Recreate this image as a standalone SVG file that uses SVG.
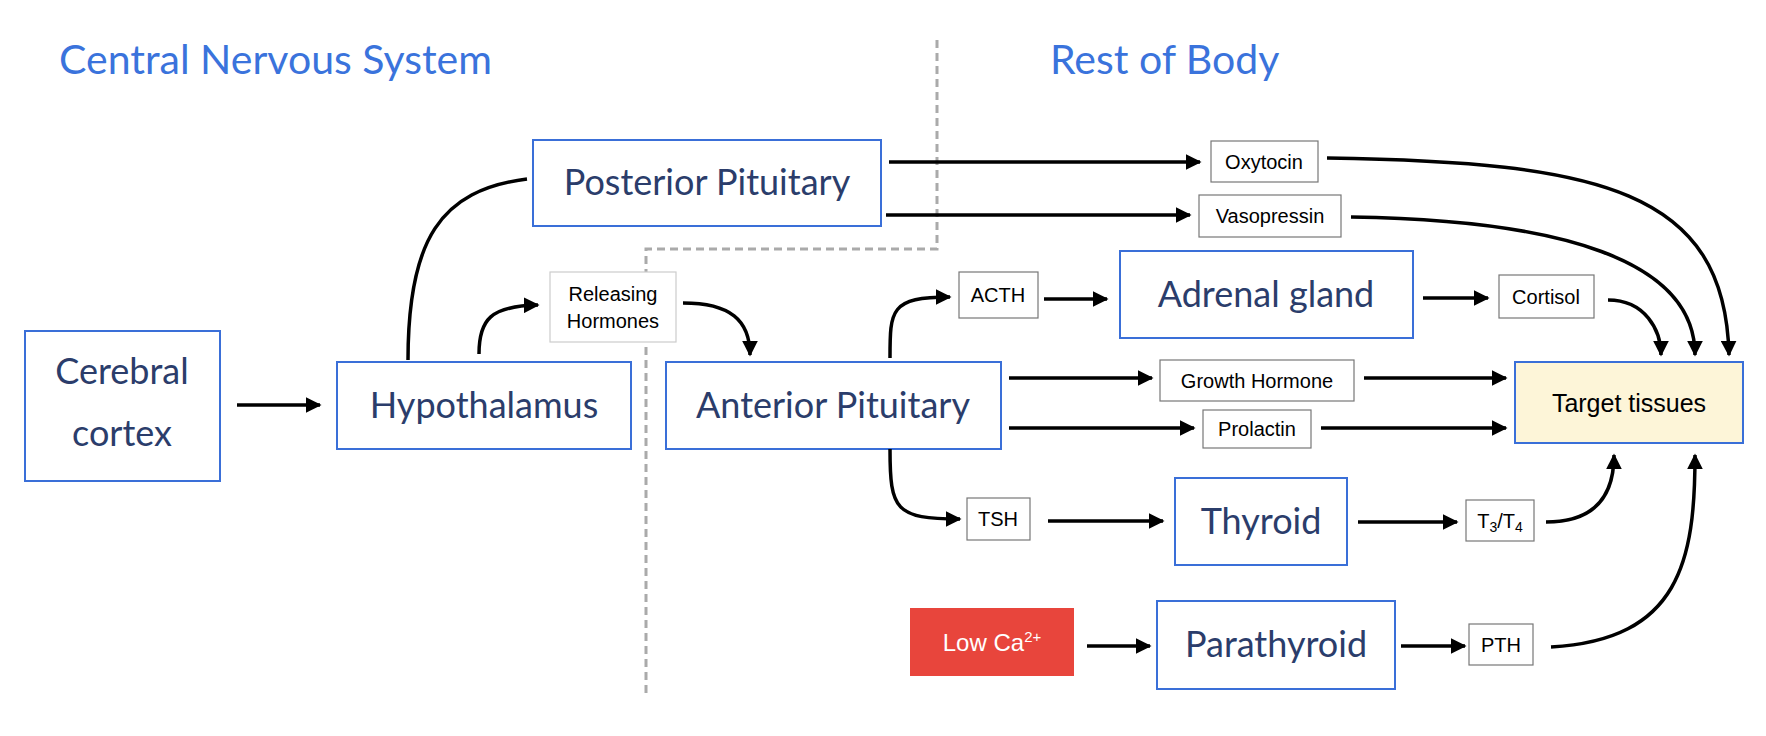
<svg xmlns="http://www.w3.org/2000/svg" width="1766" height="736" viewBox="0 0 1766 736">
<style>
.title{font-family:Lato,"Open Sans",sans-serif;font-size:41px;fill:#3a73dc}
.nb{fill:#fff;stroke:#3a6fd8;stroke-width:2}
.nt{font-family:Lato,"Open Sans",sans-serif;font-size:36px;fill:#2b3d6b;text-anchor:middle}
.sb{fill:#fff;stroke:#777;stroke-width:1.2}
.st{font-family:"Liberation Sans",Arial,sans-serif;font-size:20px;fill:#000;text-anchor:middle}
.c{fill:none;stroke:#000;stroke-width:3.5;marker-end:url(#a)}
</style>
<defs><marker id="a" viewBox="0 0 10 10" refX="9" refY="5" markerWidth="4.5" markerHeight="4.5" orient="auto" markerUnits="strokeWidth"><path d="M0,0L10,5L0,10z" fill="#000"/></marker></defs>
<rect width="1766" height="736" fill="#fff"/>
<text class="title" x="59" y="74">Central Nervous System</text>
<text class="title" x="1050" y="74">Rest of Body</text>
<path d="M937,40V249H646V693" fill="none" stroke="#aaa" stroke-width="3" stroke-dasharray="8,5"/>
<g id="cortex"><rect class="nb" x="25" y="331" width="195" height="150"/><text class="nt" x="122" y="384">Cerebral</text><text class="nt" x="122" y="446">cortex</text></g>
<g id="hypothalamus"><rect class="nb" x="337" y="362" width="294" height="87"/><text class="nt" x="484" y="418">Hypothalamus</text></g>
<g id="posterior"><rect class="nb" x="533" y="140" width="348" height="86"/><text class="nt" x="707" y="195">Posterior Pituitary</text></g>
<g id="releasing"><rect x="550" y="272" width="126" height="70" fill="#fff" stroke="#ccc" stroke-width="1.2"/><text class="st" x="613" y="301">Releasing</text><text class="st" x="613" y="328">Hormones</text></g>
<g id="anterior"><rect class="nb" x="666" y="362" width="335" height="87"/><text class="nt" x="833" y="418">Anterior Pituitary</text></g>
<g id="acth"><rect class="sb" x="959" y="272" width="79" height="46"/><text class="st" x="998" y="302">ACTH</text></g>
<g id="adrenal"><rect class="nb" x="1120" y="251" width="293" height="87"/><text class="nt" x="1266" y="307">Adrenal gland</text></g>
<g id="cortisol"><rect class="sb" x="1499" y="275" width="95" height="43"/><text class="st" x="1546" y="304">Cortisol</text></g>
<g id="oxytocin"><rect class="sb" x="1211" y="141" width="107" height="41"/><text class="st" x="1264" y="169">Oxytocin</text></g>
<g id="vasopressin"><rect class="sb" x="1199" y="195" width="142" height="42"/><text class="st" x="1270" y="223">Vasopressin</text></g>
<g id="gh"><rect class="sb" x="1160" y="360" width="194" height="41"/><text class="st" x="1257" y="388">Growth Hormone</text></g>
<g id="prolactin"><rect class="sb" x="1203" y="410" width="108" height="38"/><text class="st" x="1257" y="436">Prolactin</text></g>
<g id="target"><rect x="1515" y="362" width="228" height="81" fill="#fdf5d8" stroke="#3a6fd8" stroke-width="2"/><text class="st" x="1629" y="412" style="font-size:25px">Target tissues</text></g>
<g id="tsh"><rect class="sb" x="967" y="498" width="63" height="42"/><text class="st" x="998" y="526">TSH</text></g>
<g id="thyroid"><rect class="nb" x="1175" y="478" width="172" height="87"/><text class="nt" x="1261" y="534">Thyroid</text></g>
<g id="t3t4"><rect class="sb" x="1466" y="500" width="68" height="41"/><text class="st" x="1500" y="528">T<tspan font-size="14" dy="4">3</tspan><tspan dy="-4">/T</tspan><tspan font-size="14" dy="4">4</tspan></text></g>
<g id="lowca"><rect x="910" y="608" width="164" height="68" fill="#e8453c"/><text class="st" x="992" y="651" style="font-size:24px;fill:#fff">Low Ca<tspan font-size="15" dy="-9">2+</tspan></text></g>
<g id="parathyroid"><rect class="nb" x="1157" y="601" width="238" height="88"/><text class="nt" x="1276" y="657">Parathyroid</text></g>
<g id="pth"><rect class="sb" x="1469" y="624" width="64" height="41"/><text class="st" x="1501" y="652">PTH</text></g>
<g id="connectors">
<path class="c" d="M237,405H320"/>
<path d="M408,360C408,240 440,190 527,179" fill="none" stroke="#000" stroke-width="3.5"/>
<path class="c" d="M479,354C479,320 490,306 538,305"/>
<path class="c" d="M683,303C730,303 750,320 750,355"/>
<path class="c" d="M889,162H1200"/>
<path class="c" d="M886,215H1190"/>
<path class="c" d="M1327,158C1600,162 1725,190 1729,355"/>
<path class="c" d="M1351,217C1560,220 1695,260 1695,355"/>
<path class="c" d="M1608,300C1645,300 1661,330 1661,355"/>
<path class="c" d="M890,358C890,310 890,297 950,297"/>
<path class="c" d="M1044,299H1107"/>
<path class="c" d="M1423,298H1488"/>
<path class="c" d="M1009,378H1152"/>
<path class="c" d="M1364,378H1506"/>
<path class="c" d="M1009,428H1194"/>
<path class="c" d="M1321,428H1506"/>
<path class="c" d="M890,449C890,510 895,519 960,519"/>
<path class="c" d="M1048,521H1163"/>
<path class="c" d="M1358,522H1457"/>
<path class="c" d="M1546,522C1600,522 1614,490 1614,455"/>
<path class="c" d="M1087,646H1150"/>
<path class="c" d="M1401,646H1465"/>
<path class="c" d="M1551,647C1680,640 1695,560 1695,455"/>
</g>
</svg>
